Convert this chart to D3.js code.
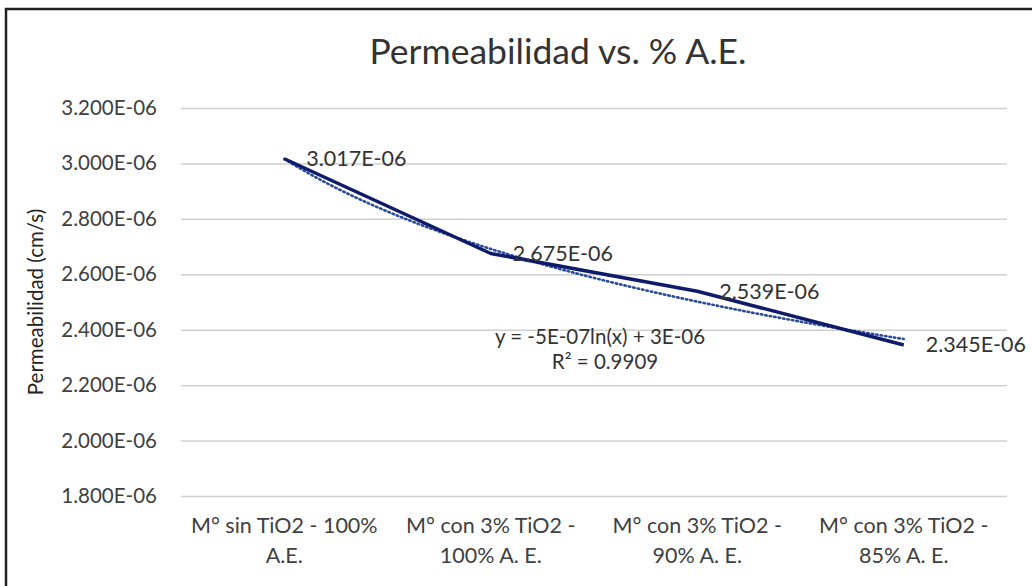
<!DOCTYPE html>
<html>
<head>
<meta charset="utf-8">
<script src="https://cdn.jsdelivr.net/npm/d3@7"></script>
<style>
  html, body { margin: 0; padding: 0; background: #fff; }
  svg { display: block; font-family: Lato, "Open Sans", sans-serif; }
</style>
</head>
<body>
<svg id="chart" width="1032" height="586"></svg>
<script>
// Category labels (two lines each), measured permeability, axis ticks
const categories = [
  ["M° sin TiO2 - 100%", "A.E."],
  ["M° con 3% TiO2 -", "100% A. E."],
  ["M° con 3% TiO2 -", "90% A. E."],
  ["M° con 3% TiO2 -", "85% A. E."]
];
const permeability = [3.017e-6, 2.675e-6, 2.539e-6, 2.345e-6];
const yTicks = [1.8e-6, 2.0e-6, 2.2e-6, 2.4e-6, 2.6e-6, 2.8e-6, 3.0e-6, 3.2e-6];
const titleText = "Permeabilidad vs. % A.E.";
const yAxisTitle = "Permeabilidad (cm/s)";
const trendEquation = "y = -5E-07ln(x) + 3E-06";
const trendR2 = "R² = 0.9909";

const svg = d3.select("#chart");
const plot = { left: 181, right: 1007, top: 108, bottom: 496 };

// Scientific format like 3.017E-06
function sci(v) {
  const [m, e] = v.toExponential(3).split("e");
  const n = Math.abs(+e);
  return m + "E" + (+e < 0 ? "-" : "+") + (n < 10 ? "0" + n : n);
}

const x = d3.scaleBand().domain(d3.range(categories.length)).range([plot.left, plot.right]).padding(0);
const cx = i => x(i) + x.bandwidth() / 2;
const y = d3.scaleLinear().domain([1.8e-6, 3.2e-6]).range([plot.bottom, plot.top]);

// Outer frame (top and left edges visible)
svg.append("path")
  .attr("d", "M6,1032 V9 H1032")
  .attr("fill", "none").attr("stroke", "#222").attr("stroke-width", 2.5);

// Title
svg.append("text")
  .attr("x", 558).attr("y", 64)
  .attr("text-anchor", "middle")
  .attr("font-size", 35.5).attr("fill", "#333")
  .text(titleText);

// Gridlines + y tick labels
const yAxis = d3.axisLeft(y).tickValues(yTicks).tickSize(-(plot.right - plot.left)).tickPadding(24).tickFormat(sci);
const gy = svg.append("g").attr("transform", `translate(${plot.left},0)`).call(yAxis);
gy.select(".domain").remove();
gy.selectAll(".tick line").attr("stroke", "#d0d0d0").attr("stroke-width", 1.5);
gy.selectAll(".tick text").attr("font-size", 20.5).attr("fill", "#404040").attr("font-family", "Lato, sans-serif");

// Y axis title
svg.append("text")
  .attr("transform", `translate(43,302) rotate(-90)`)
  .attr("text-anchor", "middle")
  .attr("font-size", 20.5).attr("fill", "#222")
  .text(yAxisTitle);

// X category labels
const xl = svg.append("g");
categories.forEach((lines, i) => {
  const t = xl.append("text")
    .attr("x", cx(i)).attr("y", 533)
    .attr("text-anchor", "middle")
    .attr("font-size", 21.5).attr("fill", "#404040");
  lines.forEach((ln, k) => {
    t.append("tspan").attr("x", cx(i)).attr("dy", k === 0 ? 0 : 30).text(ln);
  });
});

// Logarithmic trendline fitted by least squares on ln(position)
const lx = permeability.map((_, i) => Math.log(i + 1));
const mx = d3.mean(lx), my = d3.mean(permeability);
const slope = d3.sum(lx, (v, i) => (v - mx) * (permeability[i] - my)) / d3.sum(lx, v => (v - mx) ** 2);
const intercept = my - slope * mx;
const xCont = d3.scaleLinear().domain([1, categories.length]).range([cx(0), cx(categories.length - 1)]);
const trendPts = d3.range(1, categories.length + 0.001, 0.05).map(t => [xCont(t), y(intercept + slope * Math.log(t))]);
svg.append("path")
  .attr("d", d3.line()(trendPts))
  .attr("fill", "none").attr("stroke", "#2a4a9c")
  .attr("stroke-width", 2.6).attr("stroke-dasharray", "1.5,3").attr("stroke-linecap", "round");

// Data line
svg.append("path")
  .datum(permeability)
  .attr("d", d3.line().x((d, i) => cx(i)).y(d => y(d)))
  .attr("fill", "none").attr("stroke", "#0e1b6b").attr("stroke-width", 3.5)
  .attr("stroke-linejoin", "round");

// Value labels
svg.append("g").selectAll("text").data(permeability).join("text")
  .attr("x", (d, i) => cx(i) + 22).attr("y", d => y(d) + 7.5)
  .attr("font-size", 21.5).attr("fill", "#333")
  .text(d => sci(d));

// Trendline equation
svg.append("text").attr("x", 600).attr("y", 344).attr("text-anchor", "middle")
  .attr("font-size", 20.5).attr("fill", "#333").text(trendEquation);
svg.append("text").attr("x", 605).attr("y", 369).attr("text-anchor", "middle")
  .attr("font-size", 20.5).attr("fill", "#333").text(trendR2);
</script>
</body>
</html>
